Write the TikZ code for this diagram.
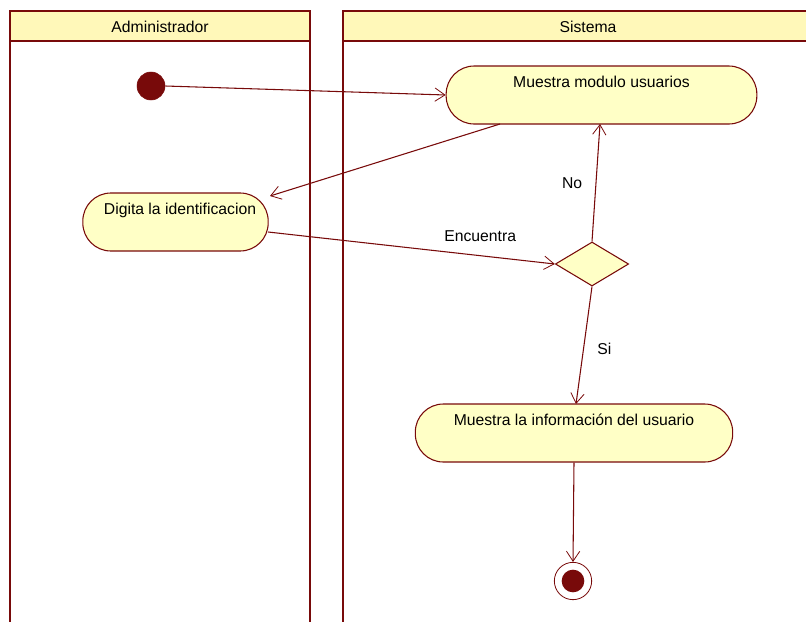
\documentclass[tikz,border=0pt]{standalone}
\usepackage{fontspec}
\setmainfont{Liberation Sans}
\usetikzlibrary{arrows.meta,shapes.geometric}
\definecolor{ln}{RGB}{120,10,10}
\definecolor{nfill}{RGB}{255,255,198}
\definecolor{hfill}{RGB}{255,248,185}
\begin{document}
\begin{tikzpicture}[x=0.75pt,y=-0.75pt,
  lane/.style={draw=ln,line width=2pt},
  head/.style={draw=ln,line width=2pt,fill=hfill},
  act/.style={draw=ln,line width=0.8pt,fill=nfill,rounded corners=21pt,inner sep=0pt},
  txt/.style={font=\fontsize{11.8}{13}\selectfont,inner sep=0pt},
  flow/.style={draw=ln,line width=0.8pt,-{Straight Barb[length=7.5pt,width=10pt,line width=0.6pt]}},
  lbl/.style={font=\fontsize{11.8}{13}\selectfont,inner sep=1pt}]
\useasboundingbox (0,0) rectangle (806,621);
\begin{scope}
\clip (0,0) rectangle (806,621);
% lanes
\draw[lane] (10,41) -- (10,640) (310,41) -- (310,640);
\draw[lane] (343,41) -- (343,640);
\draw[head] (10,11) rectangle (310,41);
\draw[head] (343,11) rectangle (830,41);
\node[txt] (hadm) at (160,27) {Administrador};
\node[txt] (hsis) at (588,27) {Sistema};
% nodes
\node[circle,fill=ln,draw=ln,minimum size=21pt,inner sep=0pt] (ini) at (151,86) {};
\node[act,minimum width=233pt,minimum height=43.5pt] (mod) at (601.5,95) {};
\node[txt,anchor=north] (modt) at (601.5,76) {Muestra modulo usuarios};
\node[act,minimum width=139pt,minimum height=43.5pt] (dig) at (175.5,222) {};
\node[txt,anchor=north] (digt) at (180,203) {Digita la identificacion};
\node[diamond,draw=ln,line width=0.8pt,fill=nfill,minimum width=55pt,minimum height=33pt,inner sep=0pt] (dec) at (592,264) {};
\node[act,minimum width=238pt,minimum height=43.5pt] (inf) at (574,433) {};
\node[txt,anchor=north] (inft) at (574,414) {Muestra la información del usuario};
\node[circle,draw=ln,line width=0.6pt,fill=white,minimum size=28pt,inner sep=0pt] (fin) at (573,581) {};
\node[circle,fill=ln,minimum size=17pt,inner sep=0pt] (fini) at (573,581) {};
% flows
\draw[flow] (ini.east) -- (mod.west |- 0,95);
\coordinate (m1) at (500,124);
\coordinate (d1) at (270,196);
\draw[flow] (m1) -- (d1);
\coordinate (d2) at (268,232);
\draw[flow] (d2) -- node[lbl,above,pos=0.74,yshift=9pt] (le) {Encuentra} (dec.west);
\coordinate (m2) at (600,124);
\draw[flow] (dec.north) -- node[lbl,left,pos=0.5,xshift=-9pt] (lno) {No} (m2);
\coordinate (i1) at (576,404);
\draw[flow] (dec.south) -- node[lbl,right,pos=0.53,xshift=9pt] (lsi) {Si} (i1);
\draw[flow] (inf.south) -- (fin.north);
\end{scope}
\end{tikzpicture}
\end{document}
